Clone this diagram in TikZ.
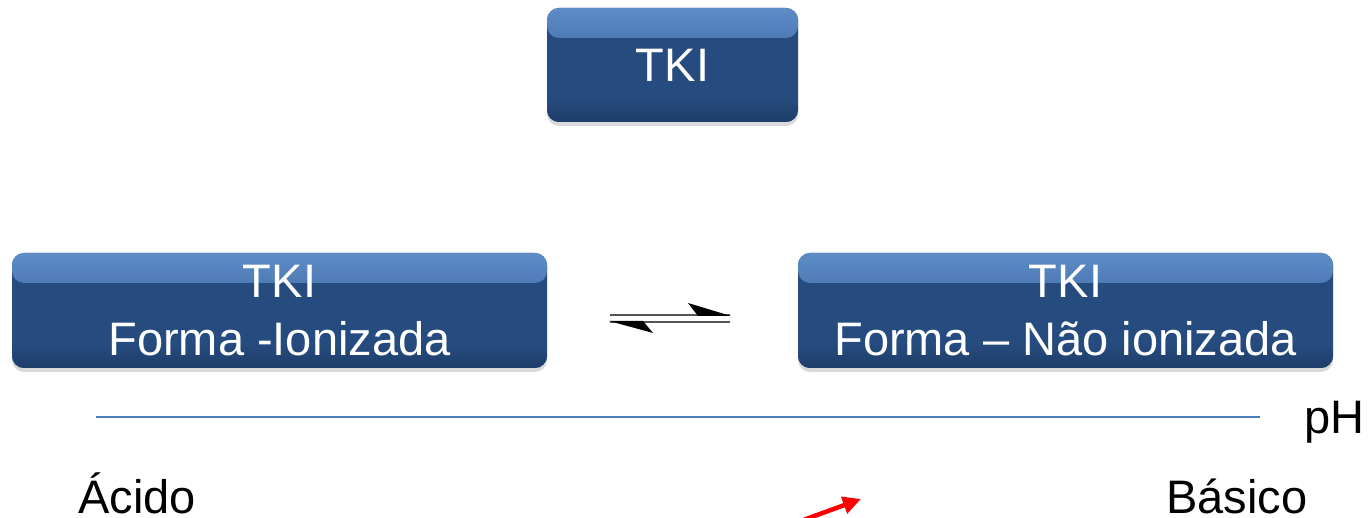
\documentclass[tikz,border=0pt]{standalone}
\usepackage{fontspec}
\setmainfont{Liberation Sans}
\usetikzlibrary{shadows,arrows.meta}
\definecolor{boxmid}{HTML}{264B7E}
\definecolor{boxhl}{HTML}{6292CE}
\definecolor{boxdk}{HTML}{1B3963}
\definecolor{axisblue}{HTML}{4A7EBB}
\definecolor{eqgray}{HTML}{555555}
\begin{document}
\begin{tikzpicture}[x=1pt,y=-1pt,
  tkibox/.style={rounded corners=12pt, fill=boxmid, text=white, align=center,
    inner sep=0pt, font=\fontsize{47}{58}\selectfont,
    drop shadow={opacity=0.3, shadow xshift=0pt, shadow yshift=-4pt},
    path picture={
      \shade[top color=boxhl, bottom color=boxmid]
        ([yshift=10pt]path picture bounding box.north west) rectangle ([yshift=-30pt]path picture bounding box.north east);
      \shade[top color=boxmid, bottom color=boxdk]
        ([yshift=24pt]path picture bounding box.south west) rectangle ([yshift=-8pt]path picture bounding box.south east);
    }},
  lbl/.style={inner sep=0pt, font=\fontsize{47}{56}\selectfont, anchor=base west},
  eqline/.style={draw=eqgray, line width=2.2pt},
  eqhead/.style={fill=black},
]
\useasboundingbox (0,0) rectangle (1369,518);

% boxes
\node[tkibox, minimum width=251pt, minimum height=114pt] (tki) at (672.5,65) {TKI};
\node[tkibox, minimum width=535pt, minimum height=115pt] (ion) at (279.5,310.5) {TKI\\Forma -Ionizada};
\node[tkibox, minimum width=535pt, minimum height=115pt] (nonion) at (1065.5,310.5) {TKI\\Forma – Não ionizada};

% equilibrium harpoons
\coordinate (eqA) at (610,315);
\coordinate (eqB) at (730,315);
\coordinate (eqC) at (610,322);
\coordinate (eqD) at (730,322);
\draw[eqline] (eqA) -- (eqB);
\fill[eqhead] (731,316) -- (688,303) -- (698,316) -- cycle;
\draw[eqline] (eqD) -- (eqC);
\fill[eqhead] (609,321) -- (653,333) -- (643,321) -- cycle;

% pH axis
\coordinate (axA) at (96,417);
\coordinate (axB) at (1260,417);
\draw[axisblue, line width=1.3pt] (axA) -- (axB);
\node[lbl] (ph) at (1304,434) {pH};
\node[lbl] (acido) at (78,514) {Ácido};
\node[lbl] (basico) at (1166,514) {Básico};

% red arrow
\coordinate (raA) at (798,522);
\coordinate (raB) at (861,499);
\draw[red, line width=4.5pt, -{Triangle[length=18pt,width=17pt]}] (raA) -- (raB);
\end{tikzpicture}
\end{document}
